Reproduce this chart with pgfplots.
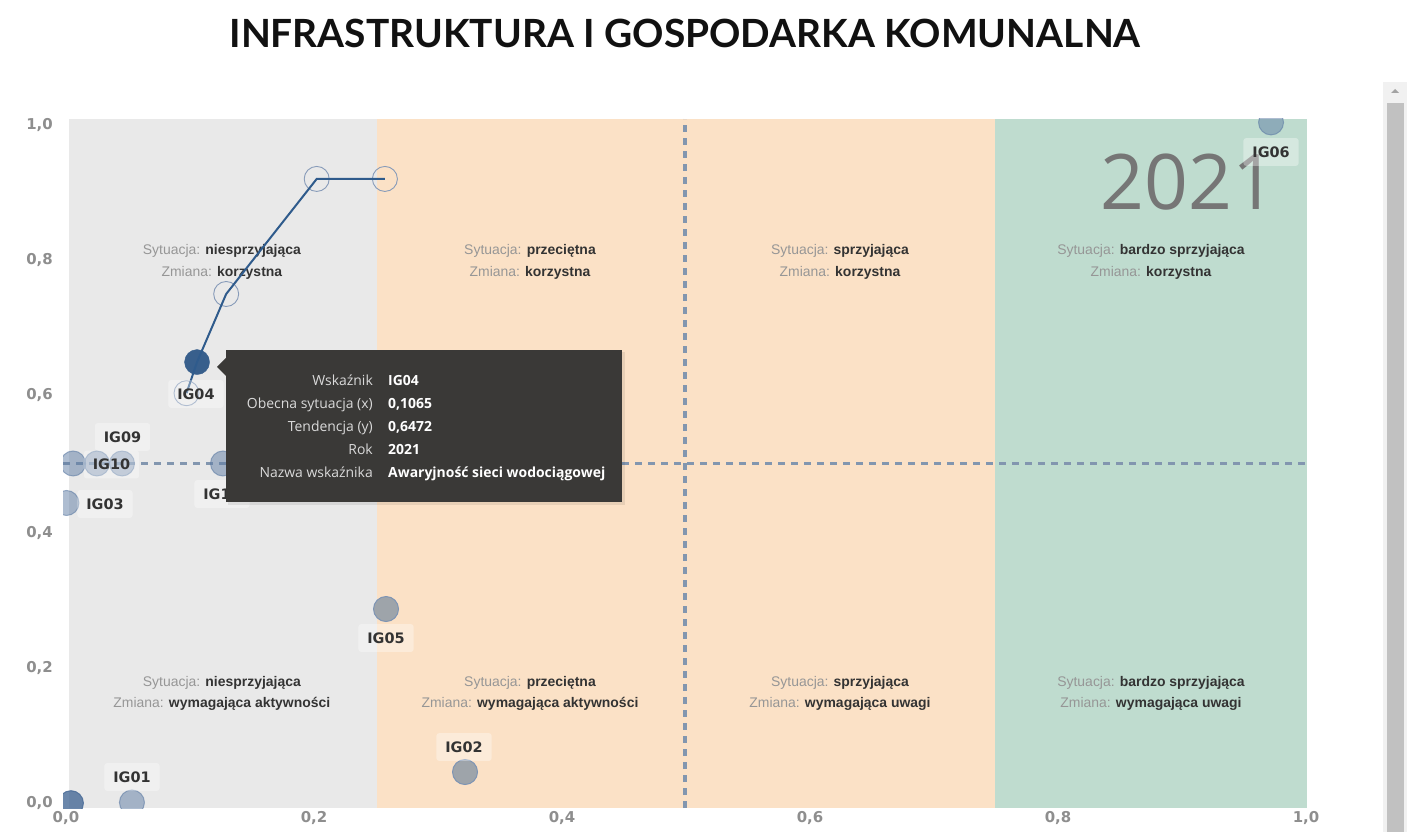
\documentclass[border=0pt]{standalone}
\usepackage{pgfplots}
\pgfplotsset{compat=1.18}
\usepackage{fontspec}
\setmainfont{Liberation Sans}
\newfontfamily\lato{Lato}
\newfontfamily\osans{Open Sans}
\newfontfamily\dvs{DejaVu Sans}
\definecolor{bgGray}{RGB}{233,233,233}
\definecolor{bgPeach}{RGB}{251,225,198}
\definecolor{bgGreen}{RGB}{191,220,207}
\definecolor{tickGray}{RGB}{142,142,142}
\definecolor{txtGray}{RGB}{150,150,150}
\definecolor{txtDark}{RGB}{51,51,51}
\definecolor{dashCol}{RGB}{130,150,175}
\definecolor{ptBlue}{RGB}{95,125,165}
\definecolor{ptBlueDark}{RGB}{70,105,150}
\definecolor{ptGray}{RGB}{158,164,170}
\definecolor{ptGrayEdge}{RGB}{125,148,180}
\definecolor{ptDark}{RGB}{56,95,140}
\definecolor{lineBlue}{RGB}{47,91,140}
\definecolor{trailCol}{RGB}{135,155,185}
\definecolor{tipBg}{RGB}{58,57,55}
\definecolor{tipLab}{RGB}{218,218,218}
\definecolor{yearCol}{RGB}{118,118,118}
\definecolor{titleCol}{RGB}{17,17,17}
\definecolor{scrTrack}{RGB}{241,241,241}
\definecolor{scrThumb}{RGB}{193,193,193}
\definecolor{scrArrow}{RGB}{163,163,163}
\begin{document}
\begin{tikzpicture}[x=1bp,y=1bp,
  lbl/.style={font=\dvs\bfseries\fontsize{14.5}{14.5}\selectfont, text=txtDark, fill=white, fill opacity=0.35, text opacity=1, rounded corners=3bp, inner xsep=9bp, inner ysep=8.5bp},
  qt/.style={font=\fontsize{14}{14}\selectfont}]
\useasboundingbox (0,0) rectangle (1412,832);
\fill[white] (0,0) rectangle (1412,832);
\node[font=\lato\bfseries\fontsize{39}{39}\selectfont, text=titleCol] at (685,799) {INFRASTRUKTURA I GOSPODARKA KOMUNALNA};
\begin{axis}[
  at={(63bp,24bp)}, anchor=south west,
  scale only axis, width=1244bp, height=689bp,
  xmin=-0.0016, xmax=1.0016, ymin=0, ymax=1,
  axis line style={draw=none}, tick style={draw=none},
  xtick={0,0.2,0.4,0.6,0.8,1},
  ytick={0.0073,0.2032,0.3991,0.5994,0.7954,0.9913},
  yticklabels={{0,0},{0,2},{0,4},{0,6},{0,8},{1,0}},
  /pgf/number format/.cd, fixed, fixed zerofill, precision=1, use comma, assume math mode=true,
  /pgfplots/.cd,
  ticklabel style={font=\dvs\bfseries\fontsize{15}{15}\selectfont, text=tickGray},
  xticklabel style={anchor=center, yshift=-10bp, xshift=1bp, inner sep=0pt},
  yticklabel style={anchor=east, xshift=-10bp, inner sep=0pt},
  clip marker paths=true,
]
% background bands
\addplot[fill=bgGray, draw=none] coordinates {(0.003,1)(0.2515,1)} \closedcycle;
\addplot[fill=bgPeach, draw=none] coordinates {(0.2515,1)(0.75,1)} \closedcycle;
\addplot[fill=bgGreen, draw=none] coordinates {(0.75,1)(1.0016,1)} \closedcycle;
% dashed quadrant lines
\addplot[dashCol, line width=3.5bp, dash pattern=on 7bp off 6bp] coordinates {(0.5,0)(0.5,1)};
\addplot[dashCol, line width=3.5bp, dash pattern=on 7bp off 6bp] coordinates {(-0.0016,0.5)(1.0016,0.5)};
% quadrant texts
\node[qt] at (axis cs:0.1265,0.8084) {\textcolor{txtGray}{Sytuacja:} \textcolor{txtDark}{\bfseries niesprzyjająca}};
\node[qt] at (axis cs:0.1265,0.7766) {\textcolor{txtGray}{Zmiana:} \textcolor{txtDark}{\bfseries korzystna}};
\node[qt] at (axis cs:0.375,0.8084) {\textcolor{txtGray}{Sytuacja:} \textcolor{txtDark}{\bfseries przeciętna}};
\node[qt] at (axis cs:0.375,0.7766) {\textcolor{txtGray}{Zmiana:} \textcolor{txtDark}{\bfseries korzystna}};
\node[qt] at (axis cs:0.625,0.8084) {\textcolor{txtGray}{Sytuacja:} \textcolor{txtDark}{\bfseries sprzyjająca}};
\node[qt] at (axis cs:0.625,0.7766) {\textcolor{txtGray}{Zmiana:} \textcolor{txtDark}{\bfseries korzystna}};
\node[qt] at (axis cs:0.8758,0.8084) {\textcolor{txtGray}{Sytuacja:} \textcolor{txtDark}{\bfseries bardzo sprzyjająca}};
\node[qt] at (axis cs:0.8758,0.7766) {\textcolor{txtGray}{Zmiana:} \textcolor{txtDark}{\bfseries korzystna}};
\node[qt] at (axis cs:0.1265,0.1814) {\textcolor{txtGray}{Sytuacja:} \textcolor{txtDark}{\bfseries niesprzyjająca}};
\node[qt] at (axis cs:0.1265,0.1509) {\textcolor{txtGray}{Zmiana:} \textcolor{txtDark}{\bfseries wymagająca aktywności}};
\node[qt] at (axis cs:0.375,0.1814) {\textcolor{txtGray}{Sytuacja:} \textcolor{txtDark}{\bfseries przeciętna}};
\node[qt] at (axis cs:0.375,0.1509) {\textcolor{txtGray}{Zmiana:} \textcolor{txtDark}{\bfseries wymagająca aktywności}};
\node[qt] at (axis cs:0.625,0.1814) {\textcolor{txtGray}{Sytuacja:} \textcolor{txtDark}{\bfseries sprzyjająca}};
\node[qt] at (axis cs:0.625,0.1509) {\textcolor{txtGray}{Zmiana:} \textcolor{txtDark}{\bfseries wymagająca uwagi}};
\node[qt] at (axis cs:0.8758,0.1814) {\textcolor{txtGray}{Sytuacja:} \textcolor{txtDark}{\bfseries bardzo sprzyjająca}};
\node[qt] at (axis cs:0.8758,0.1509) {\textcolor{txtGray}{Zmiana:} \textcolor{txtDark}{\bfseries wymagająca uwagi}};
% year
\node[font=\osans\fontsize{77}{77}\selectfont, text=yearCol] at (axis cs:0.9060,0.9086) {2021};
% trail of IG04 (earlier years)
\addplot[only marks, mark=o, mark size=12.5bp, mark options={draw=trailCol, line width=0.9bp}] coordinates {(0.258,0.913)(0.203,0.913)(0.130,0.746)(0.098,0.602)};
% indicators, semi transparent
\addplot[only marks, mark=*, mark size=12.5bp, mark options={fill=ptBlue, fill opacity=0.5, draw=ptBlue, draw opacity=0.6, line width=1bp}] coordinates {(0.0065,0.5)(0.0258,0.5)(0.0460,0.5)(0.1274,0.5)(0.0012,0.4427)(0.0540,0.008)(0.9726,0.995)};
\addplot[only marks, mark=*, mark size=12.5bp, mark options={fill=ptBlueDark, fill opacity=0.8, draw=ptBlueDark, draw opacity=0.8, line width=1bp}] coordinates {(0.0048,0.007)};
\addplot[only marks, mark=*, mark size=12.5bp, mark options={fill=ptGray, draw=ptGrayEdge, line width=1bp}] coordinates {(0.2589,0.2888)(0.3226,0.0522)};
% current IG04
\addplot[only marks, mark=*, mark size=12.5bp, mark options={fill=ptDark, draw=ptDark}] coordinates {(0.1065,0.6472)};
\addplot[lineBlue, line width=2bp] coordinates {(0.258,0.913)(0.203,0.913)(0.130,0.746)(0.1065,0.6472)(0.098,0.602)};
% data labels
\node[lbl] at (axis cs:0.0464,0.5385) {IG09};
\node[lbl] at (axis cs:0.0375,0.4985) {IG10};
\node[lbl] at (axis cs:0.0323,0.4412) {IG03};
\node[lbl] at (axis cs:0.1266,0.4557) {IG11};
\node[lbl] at (axis cs:0.1056,0.6009) {IG04};
\node[lbl] at (axis cs:0.2589,0.2467) {IG05};
\node[lbl] at (axis cs:0.3218,0.0885) {IG02};
\node[lbl] at (axis cs:0.0540,0.0450) {IG01};
\node[lbl] at (axis cs:0.9726,0.9521) {IG06};
\end{axis}
% tooltip
\fill[black, opacity=0.08] (228,327) rectangle (625,480);
\fill[tipBg] (226,330) rectangle (622,482);
\fill[tipBg] (217,465) -- (226,474) -- (226,456) -- cycle;
\begin{scope}[font=\osans\fontsize{14}{14}\selectfont]
\node[anchor=base east, inner sep=0pt, text=tipLab] at (373,446) {Wskaźnik};
\node[anchor=base east, inner sep=0pt, text=tipLab] at (373,423) {Obecna sytuacja (x)};
\node[anchor=base east, inner sep=0pt, text=tipLab] at (373,400) {Tendencja (y)};
\node[anchor=base east, inner sep=0pt, text=tipLab] at (373,377) {Rok};
\node[anchor=base east, inner sep=0pt, text=tipLab] at (373,354) {Nazwa wskaźnika};
\node[anchor=base west, inner sep=0pt, text=white, font=\osans\bfseries\fontsize{14}{14}\selectfont] at (388,446) {IG04};
\node[anchor=base west, inner sep=0pt, text=white, font=\osans\bfseries\fontsize{14}{14}\selectfont] at (388,423) {0,1065};
\node[anchor=base west, inner sep=0pt, text=white, font=\osans\bfseries\fontsize{14}{14}\selectfont] at (388,400) {0,6472};
\node[anchor=base west, inner sep=0pt, text=white, font=\osans\bfseries\fontsize{14}{14}\selectfont] at (388,377) {2021};
\node[anchor=base west, inner sep=0pt, text=white, font=\osans\bfseries\fontsize{14}{14}\selectfont] at (388,354) {Awaryjność sieci wodociągowej};
\end{scope}
% scrollbar
\fill[scrTrack] (1383,0) rectangle (1407,750);
\fill[scrThumb] (1387,0) rectangle (1404,729);
\fill[scrArrow] (1391,739) -- (1399,739) -- (1395,743) -- cycle;
\end{tikzpicture}
\end{document}
